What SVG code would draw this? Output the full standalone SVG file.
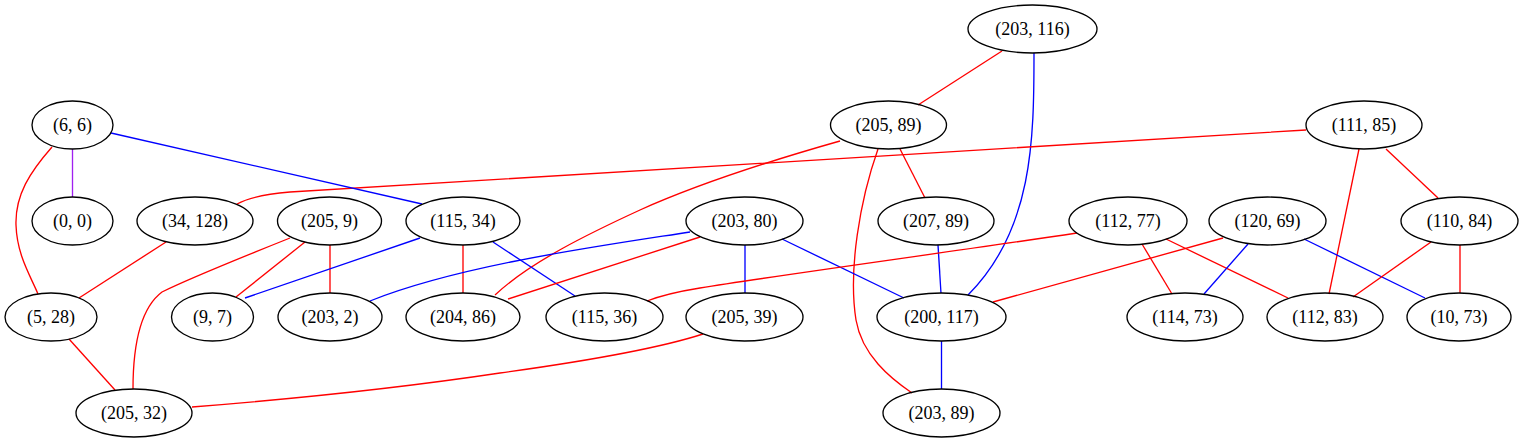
<svg xmlns="http://www.w3.org/2000/svg" width="1524" height="443" viewBox="0 0 1524 443">
<style>
.n ellipse{fill:none;stroke:#000;stroke-width:1.33}
.n text{font-family:"Liberation Serif","Times New Roman",serif;font-size:18px;text-anchor:middle;fill:#000}
#edges path{fill:none;stroke-width:1.33}
.r{stroke:#ff0000}.b{stroke:#0000ff}.p{stroke:#a020f0}
</style>
<rect width="1524" height="443" fill="#fff"/>
<g id="edges">
<path class="r" d="M1002,51 L918,105"/>
<path class="b" d="M1034,53 C1034,140 1033,230 968,295"/>
<path class="r" d="M840,141 C780,158 700,183 640,210 C590,233 530,262 495,295"/>
<path class="r" d="M900,149 L925,198"/>
<path class="r" d="M878,149 C860,200 848,270 856,320 C862,355 890,378 912,393"/>
<path class="r" d="M1306,130 C1000,149 420,184 290,192 C265,194 248,198 237,204"/>
<path class="r" d="M1359,149 L1329,294"/>
<path class="r" d="M1386,149 L1438,198"/>
<path class="p" d="M72.5,149 L72.5,197"/>
<path class="b" d="M111,133 L422,204"/>
<path class="r" d="M52,147 C30,172 15,195 16,225 C17,255 30,275 38,294"/>
<path class="r" d="M166,242 L79,298"/>
<path class="r" d="M305,242 L236,297"/>
<path class="r" d="M330,245 L330,293"/>
<path class="r" d="M290,238 C250,254 190,278 162,292 C138,310 133,355 133,389"/>
<path class="b" d="M420,238 L245,298"/>
<path class="r" d="M463,245 L463,293"/>
<path class="b" d="M493,242 L575,296"/>
<path class="b" d="M690,232 C600,246 460,265 370,301"/>
<path class="r" d="M700,237 L508,299"/>
<path class="b" d="M745,245 L745,293"/>
<path class="b" d="M782,239 L904,298"/>
<path class="b" d="M938,245 L941,293"/>
<path class="b" d="M941.5,341 L941.5,389"/>
<path class="r" d="M703,334 C660,348 580,362 500,373 C400,388 280,400 192,407"/>
<path class="r" d="M1077,233 C950,252 780,275 700,288 C675,292 660,296 647,301"/>
<path class="r" d="M1142,244 L1172,294"/>
<path class="r" d="M1166,239 L1288,298"/>
<path class="r" d="M1223,238 L993,302"/>
<path class="b" d="M1248,244 L1204,294"/>
<path class="b" d="M1304,239 L1425,298"/>
<path class="r" d="M1431,242 L1353,297"/>
<path class="r" d="M1460,245 L1460,293"/>
<path class="r" d="M69,339 L115,390"/>
</g>
<g id="n203_116" class="n"><ellipse cx="1032.5" cy="29" rx="64.5" ry="24"/><text x="1032.5" y="35">(203, 116)</text></g>
<g id="n205_89" class="n"><ellipse cx="888.5" cy="125" rx="58" ry="24"/><text x="888.5" y="131">(205, 89)</text></g>
<g id="n111_85" class="n"><ellipse cx="1364" cy="125" rx="58" ry="24"/><text x="1364" y="131">(111, 85)</text></g>
<g id="n6_6" class="n"><ellipse cx="72.5" cy="125" rx="40.5" ry="24"/><text x="72.5" y="131">(6, 6)</text></g>
<g id="n0_0" class="n"><ellipse cx="72.5" cy="221" rx="40.5" ry="24"/><text x="72.5" y="227">(0, 0)</text></g>
<g id="n34_128" class="n"><ellipse cx="195" cy="221" rx="58" ry="24"/><text x="195" y="227">(34, 128)</text></g>
<g id="n205_9" class="n"><ellipse cx="329.5" cy="221" rx="52" ry="24"/><text x="329.5" y="227">(205, 9)</text></g>
<g id="n115_34" class="n"><ellipse cx="463" cy="221" rx="57" ry="24"/><text x="463" y="227">(115, 34)</text></g>
<g id="n203_80" class="n"><ellipse cx="744.5" cy="221" rx="58.5" ry="24"/><text x="744.5" y="227">(203, 80)</text></g>
<g id="n207_89" class="n"><ellipse cx="936" cy="221" rx="58" ry="24"/><text x="936" y="227">(207, 89)</text></g>
<g id="n112_77" class="n"><ellipse cx="1128" cy="221" rx="59" ry="24"/><text x="1128" y="227">(112, 77)</text></g>
<g id="n120_69" class="n"><ellipse cx="1267.5" cy="221" rx="58.5" ry="24"/><text x="1267.5" y="227">(120, 69)</text></g>
<g id="n110_84" class="n"><ellipse cx="1459.5" cy="221" rx="58.5" ry="24"/><text x="1459.5" y="227">(110, 84)</text></g>
<g id="n5_28" class="n"><ellipse cx="51" cy="317" rx="46" ry="24"/><text x="51" y="323">(5, 28)</text></g>
<g id="n9_7" class="n"><ellipse cx="212.5" cy="317" rx="41" ry="24"/><text x="212.5" y="323">(9, 7)</text></g>
<g id="n203_2" class="n"><ellipse cx="330" cy="317" rx="52" ry="24"/><text x="330" y="323">(203, 2)</text></g>
<g id="n204_86" class="n"><ellipse cx="463" cy="317" rx="57" ry="24"/><text x="463" y="323">(204, 86)</text></g>
<g id="n115_36" class="n"><ellipse cx="604.5" cy="317" rx="58.5" ry="24"/><text x="604.5" y="323">(115, 36)</text></g>
<g id="n205_39" class="n"><ellipse cx="744.5" cy="317" rx="58.5" ry="24"/><text x="744.5" y="323">(205, 39)</text></g>
<g id="n200_117" class="n"><ellipse cx="941.5" cy="317" rx="64.5" ry="24"/><text x="941.5" y="323">(200, 117)</text></g>
<g id="n114_73" class="n"><ellipse cx="1185" cy="317" rx="58" ry="24"/><text x="1185" y="323">(114, 73)</text></g>
<g id="n112_83" class="n"><ellipse cx="1325" cy="317" rx="58" ry="24"/><text x="1325" y="323">(112, 83)</text></g>
<g id="n10_73" class="n"><ellipse cx="1459" cy="317" rx="52" ry="24"/><text x="1459" y="323">(10, 73)</text></g>
<g id="n205_32" class="n"><ellipse cx="134" cy="413" rx="58" ry="24"/><text x="134" y="419">(205, 32)</text></g>
<g id="n203_89" class="n"><ellipse cx="941.5" cy="413" rx="58.5" ry="24"/><text x="941.5" y="419">(203, 89)</text></g>
</svg>
